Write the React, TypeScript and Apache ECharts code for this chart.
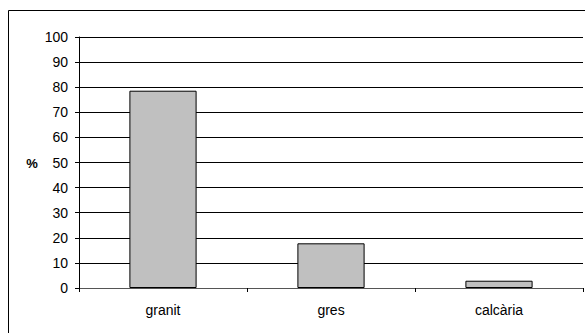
import React, { useEffect, useRef } from "react";
import * as echarts from "echarts";

const categories = ["granit", "gres", "calcària"];
const values = [78.6, 17.8, 2.9];
const yTicks = { min: 0, max: 100, interval: 10 };

export default function App() {
  const ref = useRef<HTMLDivElement>(null);
  useEffect(() => {
    document.body.style.margin = "0";
    const chart = echarts.init(ref.current!, null, { renderer: "svg" });
    const font = "'Liberation Sans', Arial, sans-serif";
    chart.setOption({
      animation: false,
      backgroundColor: "#ffffff",
      grid: { left: 79, top: 37, right: 2, bottom: 45, containLabel: false },
      graphic: [
        {
          type: "rect",
          shape: { x: 8.5, y: 10.5, width: 620, height: 400 },
          style: { fill: "none", stroke: "#000", lineWidth: 1 },
          silent: true,
          z: -1,
        },
        {
          type: "text",
          x: 32,
          y: 163,
          style: {
            text: "%",
            font: `bold 13px ${font}`,
            fill: "#000",
            align: "center",
            verticalAlign: "middle",
          },
        },
      ],
      xAxis: {
        type: "category",
        data: categories,
        axisLine: { show: true, lineStyle: { color: "#555", width: 1 } },
        axisTick: { show: true, length: 4, inside: false, lineStyle: { color: "#000" } },
        axisLabel: { color: "#000", fontSize: 14, fontFamily: font, margin: 15 },
        splitLine: { show: false },
      },
      yAxis: {
        type: "value",
        min: yTicks.min,
        max: yTicks.max,
        interval: yTicks.interval,
        axisLine: { show: true, lineStyle: { color: "#000", width: 1 } },
        axisTick: { show: true, length: 4, lineStyle: { color: "#000" } },
        axisLabel: { color: "#000", fontSize: 14, fontFamily: font, margin: 11 },
        splitLine: { show: true, lineStyle: { color: "#000", width: 1 } },
      },
      series: [
        {
          type: "bar",
          data: values,
          barWidth: "40%",
          itemStyle: { color: "#c0c0c0", borderColor: "#000", borderWidth: 1 },
        },
      ],
    });
    return () => chart.dispose();
  }, []);
  return <div ref={ref} style={{ width: 585, height: 333 }} />;
}
